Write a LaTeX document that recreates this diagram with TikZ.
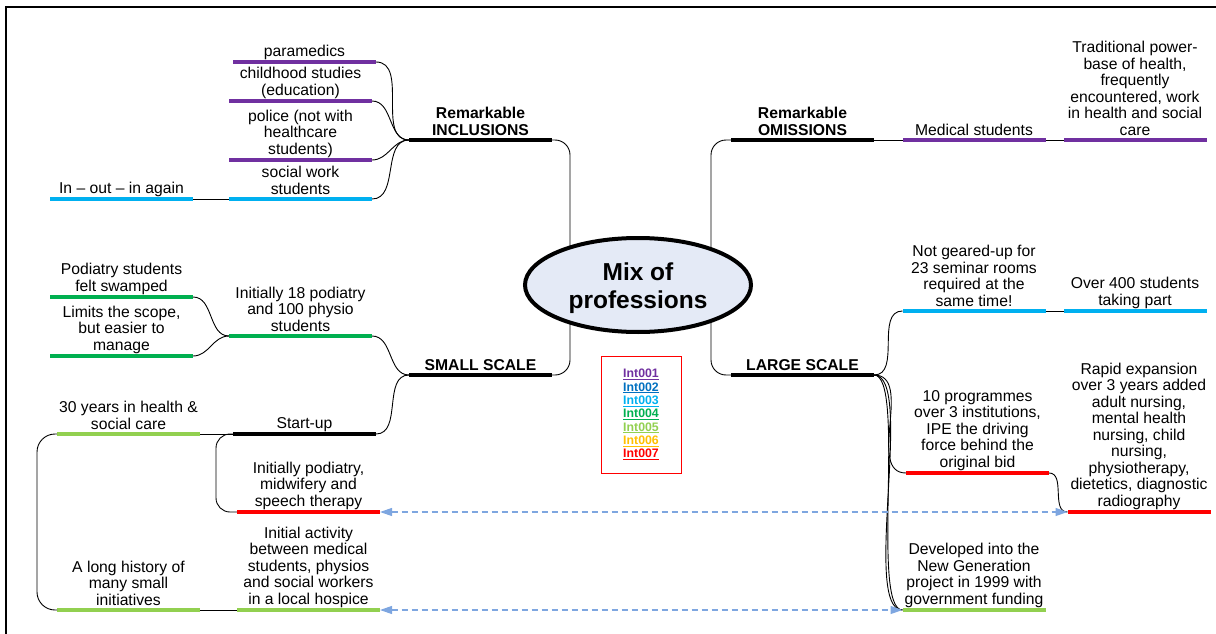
\documentclass[tikz,border=0pt]{standalone}
\usepackage{fontspec}
\setmainfont{Liberation Sans}
\usetikzlibrary{arrows.meta,shapes.geometric}

\definecolor{cPurple}{HTML}{7030A0}
\definecolor{cBlue}{HTML}{0070C0}
\definecolor{cCyan}{HTML}{00B0F0}
\definecolor{cGreen}{HTML}{00B050}
\definecolor{cLime}{HTML}{92D050}
\definecolor{cOrange}{HTML}{FFC000}
\definecolor{cRed}{HTML}{FF0000}
\definecolor{cHub}{HTML}{E4EAF6}
\definecolor{cLink}{HTML}{7EA6E0}

\newcommand{\lblfont}{\fontsize{15.7pt}{16.5pt}\selectfont}
\newcommand{\hubfont}{\fontsize{24.5pt}{28pt}\selectfont\bfseries}
\newcommand{\legfont}{\fontsize{12.3pt}{13.3pt}\selectfont\bfseries}

\begin{document}
\begin{tikzpicture}[x=1pt,y=-1pt,
  hbar/.style={fill=#1, minimum width=143pt, minimum height=4.5pt, inner sep=0pt, outer sep=0pt},
  lbl/.style={font=\lblfont, align=center, inner sep=0pt, anchor=south,
              execute at end node={\rule[-2.5pt]{0pt}{2.5pt}}},
  blbl/.style={lbl, font=\lblfont\bfseries},
  link/.style={draw=black, line width=0.9pt},
  dlink/.style={draw=cLink, line width=1.2pt, dash pattern=on 6pt off 4pt,
                {Triangle[length=12pt,width=8pt,fill=cLink]}-{Triangle[length=12pt,width=8pt,fill=cLink]}},
]
\useasboundingbox (0,0) rectangle (1216,634);

% page frame
\draw[line width=2pt] (6,634) -- (6,7) -- (1216,7);

% ---------- bars ----------
\node[hbar=black]   (incl)    at (480.5,140) {};
\node[hbar=cPurple] (para)    at (304.5,62)  {};
\node[hbar=cPurple] (child)   at (300.5,101) {};
\node[hbar=cPurple] (police)  at (300.5,160) {};
\node[hbar=cCyan]   (social)  at (300.5,199) {};
\node[hbar=cCyan]   (inout)   at (121.5,199) {};

\node[hbar=black]   (small)   at (480.5,375) {};
\node[hbar=cGreen]  (init18)  at (300.5,336) {};
\node[hbar=cGreen]  (swamp)   at (121.5,297) {};
\node[hbar=cGreen]  (scope)   at (121.5,356) {};
\node[hbar=black]   (startup) at (304.5,434) {};
\node[hbar=cLime]   (thirty)  at (128.5,434) {};
\node[hbar=cRed]    (initpod) at (308.5,512) {};
\node[hbar=cLime]   (initact) at (308.5,610) {};
\node[hbar=cLime]   (history) at (128.5,610) {};

\node[hbar=black]   (omis)    at (802.5,140) {};
\node[hbar=cPurple] (medical) at (974,140)   {};
\node[hbar=cPurple] (trad)    at (1135,140)  {};

\node[hbar=black]   (large)   at (802.5,375) {};
\node[hbar=cCyan]   (geared)  at (974,311)   {};
\node[hbar=cCyan]   (four)    at (1135,311)  {};
\node[hbar=cRed]    (tenprog) at (977.5,473) {};
\node[hbar=cRed]    (rapid)   at (1139,512)  {};
\node[hbar=cLime]   (newgen)  at (974,610)   {};

% ---------- texts above the bars ----------
\node[blbl] (inclT)    at (incl.north)    {Remarkable\\INCLUSIONS};
\node[lbl]  (paraT)    at (para.north)    {paramedics};
\node[lbl]  (childT)   at (child.north)   {childhood studies\\(education)};
\node[lbl]  (policeT)  at (police.north)  {police (not with\\healthcare\\students)};
\node[lbl]  (socialT)  at (social.north)  {social work\\students};
\node[lbl]  (inoutT)   at (inout.north)   {In -- out -- in again};

\node[blbl] (smallT)   at (small.north)   {SMALL SCALE};
\node[lbl]  (init18T)  at (init18.north)  {Initially 18 podiatry\\and 100 physio\\students};
\node[lbl]  (swampT)   at (swamp.north)   {Podiatry students\\felt swamped};
\node[lbl]  (scopeT)   at (scope.north)   {Limits the scope,\\but easier to\\manage};
\node[lbl]  (startupT) at (startup.north) {Start-up};
\node[lbl]  (thirtyT)  at (thirty.north)  {30 years in health \&\\social care};
\node[lbl]  (initpodT) at (initpod.north) {Initially podiatry,\\midwifery and\\speech therapy};
\node[lbl]  (initactT) at (initact.north) {Initial activity\\between medical\\students, physios\\and social workers\\in a local hospice};
\node[lbl]  (historyT) at (history.north) {A long history of\\many small\\initiatives};

\node[blbl] (omisT)    at (omis.north)    {Remarkable\\OMISSIONS};
\node[lbl]  (medicalT) at (medical.north) {Medical students};
\node[lbl]  (tradT)    at (trad.north)    {Traditional power-\\base of health,\\frequently\\encountered, work\\in health and social\\care};

\node[blbl] (largeT)   at (large.north)   {LARGE SCALE};
\node[lbl]  (gearedT)  at (geared.north)  {Not geared-up for\\23 seminar rooms\\required at the\\same time!};
\node[lbl]  (fourT)    at (four.north)    {Over 400 students\\taking part};
\node[lbl]  (tenprogT) at (tenprog.north) {10 programmes\\over 3 institutions,\\IPE the driving\\force behind the\\original bid};
\node[lbl]  (rapidT)   at (rapid.north)   {Rapid expansion\\over 3 years added\\adult nursing,\\mental health\\nursing, child\\nursing,\\physiotherapy,\\dietetics, diagnostic\\radiography};
\node[lbl]  (newgenT)  at (newgen.north)  {Developed into the\\New Generation\\project in 1999 with\\government funding};

% ---------- branches on the left ----------
\draw[link] (para.east)    to[out=0,in=180] (incl.west);
\draw[link] (child.east)   to[out=0,in=180] (incl.west);
\draw[link] (police.east)  to[out=0,in=180] (incl.west);
\draw[link] (social.east)  to[out=0,in=180] (incl.west);
\draw[link] (inout.east) -- (social.west);

\draw[link] (init18.east)  to[out=0,in=180] (small.west);
\draw[link] (startup.east) to[out=0,in=180] (small.west);
\draw[link] (swamp.east)   to[out=0,in=180] (init18.west);
\draw[link] (scope.east)   to[out=0,in=180] (init18.west);
\draw[link] (thirty.east) -- (startup.west);
\draw[link, rounded corners=14pt] (startup.west) -- ++(-17,0) |- (initpod.west);
\draw[link] (history.east) -- (initact.west);
\draw[link, rounded corners=18pt] (thirty.west) -- ++(-20,0) |- (history.west);

% ---------- branches on the right ----------
\draw[link] (omis.east) -- (medical.west);
\draw[link] (medical.east) -- (trad.west);
\draw[link] (large.east) to[out=0,in=180] (geared.west);
\draw[link] (geared.east) -- (four.west);
\draw[link] (large.east) to[out=0,in=180] (tenprog.west);
\draw[link] (large.east) to[out=0,in=180,looseness=0.35] (newgen.west);
\draw[link] (large.east) to[out=0,in=180,looseness=0.45] (newgen.west);
\draw[link] (tenprog.east) to[out=0,in=180] (rapid.west);

% ---------- cross links ----------
\draw[dlink] (initpod.east) -- (rapid.west);
\draw[dlink] (initact.east) -- (newgen.west);

% ---------- central topic ----------
\coordinate (hubL) at (570,285);
\coordinate (hubR) at (711,285);
\draw[link, rounded corners=15pt] (incl.east)  -| (hubL);
\draw[link, rounded corners=15pt] (small.east) -| (hubL);
\draw[link, rounded corners=15pt] (omis.west)  -| (hubR);
\draw[link, rounded corners=15pt] (large.west) -| (hubR);
\node[ellipse, draw, line width=4pt, fill=cHub, minimum width=226pt, minimum height=94pt,
      inner sep=0pt] (mix) at (638,285) {};
\node[font=\hubfont, align=center, inner sep=0pt] (mixT) at (638,288) {Mix of\\professions};

% ---------- key ----------
\node[draw=cRed, line width=1pt, minimum width=80pt, minimum height=117pt, inner sep=0pt,
      align=center, font=\legfont] (key) at (641,414.5)
  {\textcolor{cPurple}{\underline{Int001}}\\
   \textcolor{cBlue}{\underline{Int002}}\\
   \textcolor{cCyan}{\underline{Int003}}\\
   \textcolor{cGreen}{\underline{Int004}}\\
   \textcolor{cLime}{\underline{Int005}}\\
   \textcolor{cOrange}{\underline{Int006}}\\
   \textcolor{cRed}{\underline{Int007}}};
\end{tikzpicture}
\end{document}
